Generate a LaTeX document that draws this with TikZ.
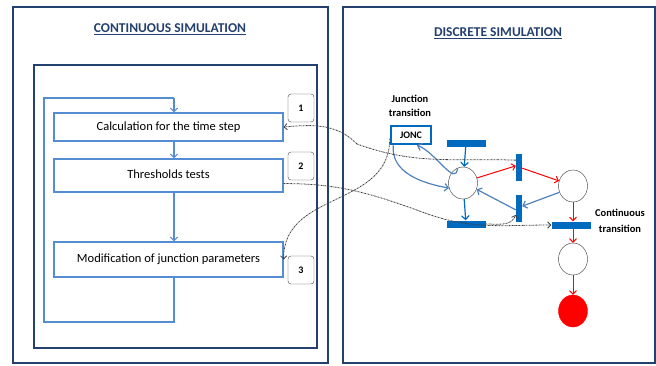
\documentclass[tikz,border=0pt]{standalone}
\usepackage{fontspec}
\setmainfont{Carlito}
\usetikzlibrary{arrows,positioning,shapes.geometric}
\definecolor{frameblue}{RGB}{36,64,110}
\definecolor{boxblue}{RGB}{84,141,212}
\definecolor{barblue}{RGB}{0,106,190}
\definecolor{arcblue}{RGB}{79,129,189}
\tikzstyle{frame}=[draw=frameblue,line width=1.8pt]
\tikzstyle{stepbox}=[draw=boxblue,line width=1.1pt,minimum width=229pt,inner sep=0pt,font=\fontsize{12.5}{14}\selectfont]
\tikzstyle{num}=[draw=black!75,rounded corners=3pt,minimum width=26pt,minimum height=28pt,inner sep=0pt,font=\bfseries\fontsize{10}{11}\selectfont]
\tikzstyle{place}=[ellipse,draw=black!80,minimum width=29pt,minimum height=32pt,inner sep=0pt]
\tikzstyle{hbar}=[fill=barblue,minimum width=39pt,minimum height=7pt,inner sep=0pt]
\tikzstyle{vbar}=[fill=barblue,minimum width=6pt,minimum height=27pt,inner sep=0pt]
\tikzstyle{link}=[black!75,dash pattern=on 1.6pt off 0.7pt on 0.4pt off 0.7pt]
\tikzstyle{title}=[text=frameblue,font=\bfseries\fontsize{13.5}{15}\selectfont]
\begin{document}
\begin{tikzpicture}[x=1pt,y=-1pt,>=angle 90]
\useasboundingbox (0,0) rectangle (656,365);
\draw[frame] (13,7) rectangle (328,363);
\draw[frame] (34,65) rectangle (317,348);
\draw[frame] (343,7) rectangle (655,363);
\node[title] (CT) at (170,29) {\underline{CONTINUOUS SIMULATION}};
\node[title] (DT) at (498,33) {\underline{DISCRETE SIMULATION}};
% continuous part
\node[stepbox,minimum height=28pt] (S1) at (168.5,127) {Calculation for the time step};
\node[stepbox,minimum height=33pt] (S2) at (168.5,175.5) {\raisebox{2pt}{Thresholds tests}};
\node[stepbox,minimum height=35pt] (S3) at (168.5,259.5) {\raisebox{3pt}{Modification of junction parameters}};
\node[num] (N1) at (301,108) {1};
\node[num] (N2) at (301,166) {2};
\node[num] (N3) at (301,270) {3};
\coordinate (X) at (174,0);
\coordinate (L1) at (174,322);
\coordinate (L2) at (44,322);
\coordinate (L3) at (44,98);
\coordinate (L4) at (174,98);
% discrete part
\node[draw=barblue,line width=2.5pt,minimum width=40pt,minimum height=18pt,inner sep=0pt,font=\bfseries\fontsize{10}{11}\selectfont] (J) at (411,135) {JONC};
\node[align=center,font=\bfseries\fontsize{10.5}{14}\selectfont] (JL) at (410,106) {Junction\\transition};
\node[hbar] (T1) at (466,143) {};
\node[place] (P1) at (463,183) {};
\node[hbar] (T2) at (466,224) {};
\node[vbar] (V1) at (519,167) {};
\node[vbar] (V2) at (519,208) {};
\node[place] (P2) at (573,186) {};
\node[hbar] (TC) at (571,225) {};
\node[align=center,font=\bfseries\fontsize{10.5}{16}\selectfont] (CL) at (620,221) {Continuous\\transition};
\node[place] (P3) at (573,259) {};
\node[place,fill=red,draw=red] (P4) at (573,311) {};
\coordinate (K1) at (357,144);
\coordinate (K2) at (425,213);
\draw[boxblue,line width=1.1pt] (S3.south -| X) -- (L1) -- (L2) -- (L3) -- (L4);
\path[->,boxblue,line width=1.1pt]
(L4) edge (S1.north -| X)
(S1.south -| X) edge (S2.north -| X)
(S2.south -| X) edge (S3.north -| X);
\path[->,barblue,line width=1.2pt]
(T1) edge (P1)
(P1) edge (T2);
\path[->,red,line width=1pt]
(P1.20) edge (V1.160)
(V1.-20) edge (P2.160)
(P2) edge (TC.north -| P2)
(TC.south -| P2) edge (P3)
(P3) edge (P4);
\path[->,arcblue,line width=1.2pt]
(P2.205) edge (V2.30)
(V2.-150) edge (P1.-25)
(P1.110) edge[out=-95,in=-20,looseness=1.1] (J.-60)
(J.-150) edge[out=-95,in=170] (P1.200);
\draw[link,line width=0.8pt] (V1.115) to[out=178,in=-20] (K1);
\draw[link,line width=0.8pt] (S2.-4) to[out=0,in=160] (K2);
\path[->,link,line width=0.8pt]
(K1) edge[out=135,in=5] (S1.east)
(K2) edge[out=-20,in=180] (TC.west)
(T2.east) edge[out=0,in=-110] (V2.-115)
(J.190) edge[out=-90,in=90,looseness=1.1] (S3.east);
\end{tikzpicture}
\end{document}
